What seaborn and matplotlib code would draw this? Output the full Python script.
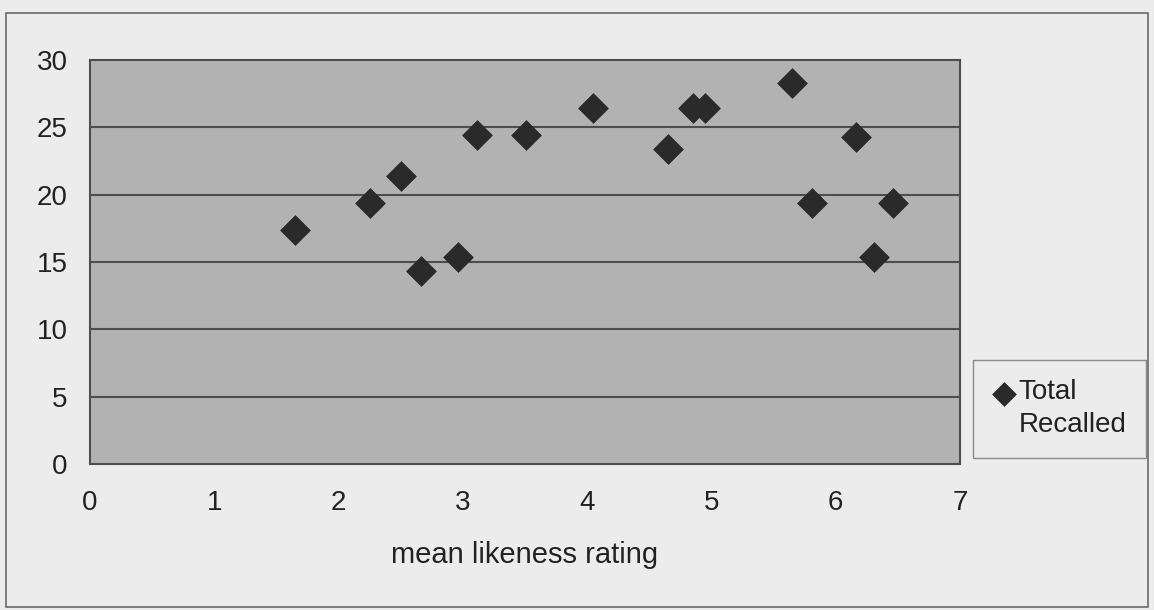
import matplotlib
matplotlib.use("Agg")
import matplotlib.pyplot as plt
import matplotlib.patches as mpatches
import seaborn as sns
import pandas as pd

# Data
likeness = [1.65, 2.25, 2.50, 2.66, 2.96, 3.11, 3.51, 4.05, 4.65, 4.85, 4.95, 5.65, 5.81, 6.16, 6.31, 6.46]
recalled = [17.4, 19.4, 21.4, 14.3, 15.4, 24.4, 24.4, 26.4, 23.4, 26.4, 26.4, 28.3, 19.4, 24.3, 15.4, 19.4]
x_ticks = [0, 1, 2, 3, 4, 5, 6, 7]
y_ticks = [0, 5, 10, 15, 20, 25, 30]
series_label = "Total\nRecalled"
x_title = "mean likeness rating"

df = pd.DataFrame({"likeness": likeness, "recalled": recalled})

sns.set_style("white")
plt.rcParams["font.family"] = ["Liberation Sans", "DejaVu Sans"]

page_bg = "#ececec"
plot_bg = "#b2b2b2"
dark = "#2a2a2a"
grid_c = "#4d4d4d"
txt_c = "#222222"
fs = 20

fig = plt.figure(figsize=(11.54, 6.10), dpi=100, facecolor=page_bg)
ax = fig.add_axes([90 / 1154, 1 - 464 / 610, 870 / 1154, 404 / 610])
ax.set_facecolor(plot_bg)

sns.scatterplot(data=df, x="likeness", y="recalled", marker="D", s=230,
                color=dark, edgecolor=dark, linewidth=0.5, ax=ax,
                label=series_label, zorder=3, legend=True)

ax.set_xlim(0, 7)
ax.set_ylim(0, 30)
ax.set_xticks(x_ticks)
ax.set_yticks(y_ticks)
ax.set_xticklabels([str(v) for v in x_ticks], fontsize=fs, color=txt_c)
ax.set_yticklabels([str(v) for v in y_ticks], fontsize=fs, color=txt_c)
ax.tick_params(axis="x", direction="out", length=6, width=1, color=grid_c, pad=13)
ax.tick_params(axis="y", direction="out", length=8, width=1, color=grid_c, pad=8)

for v in y_ticks[1:-1]:
    ax.axhline(v, color=grid_c, linewidth=1.5, zorder=1)

for sp in ax.spines.values():
    sp.set_visible(True)
    sp.set_color(grid_c)
    sp.set_linewidth(1.5)

ax.set_xlabel(x_title, fontsize=21, color=txt_c, labelpad=18)
ax.set_ylabel("")

leg = ax.legend(loc="upper right", bbox_to_anchor=(1146 / 1154, 1 - 360 / 610),
                bbox_transform=fig.transFigure, fontsize=fs, frameon=True,
                fancybox=False, edgecolor="#8a8a8a", facecolor=page_bg,
                framealpha=1, borderpad=0.7, handletextpad=0.1,
                handlelength=0.85, borderaxespad=0, markerscale=0.8)
leg.get_frame().set_linewidth(1)
for t in leg.get_texts():
    t.set_color(txt_c)
    t.set_linespacing(1.35)
# align the legend marker with the first line of its label
for h in leg.legend_handles:
    try:
        offs = h.get_offsets()
        offs[:, 1] = offs[:, 1] + fs * 0.62
        h.set_offsets(offs)
    except AttributeError:
        pass

# outer chart frame
fig.patches.append(mpatches.Rectangle((6 / 1154, 3 / 610), 1142 / 1154, 594 / 610,
                                      transform=fig.transFigure, fill=False,
                                      edgecolor="#6a6a6a", linewidth=1.2))

fig.savefig("out.png", dpi=100, facecolor=page_bg)
